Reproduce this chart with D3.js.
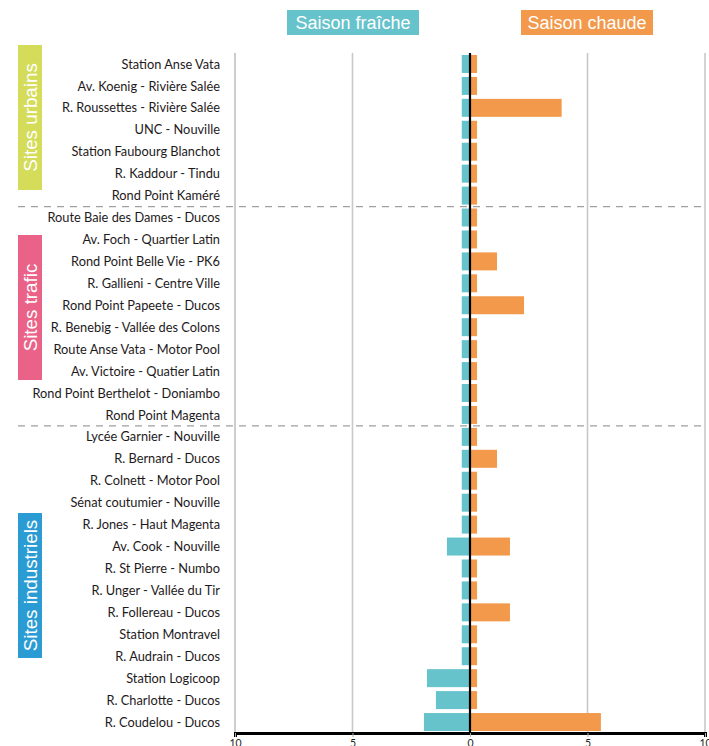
<!DOCTYPE html>
<html>
<head>
<meta charset="utf-8">
<script src="https://cdn.jsdelivr.net/npm/d3@7"></script>
<style>
  html, body { margin: 0; padding: 0; background: #fff; }
  svg { display: block; }
</style>
</head>
<body>
<svg id="chart" width="709" height="746"></svg>
<script>
// Measurement sites, top to bottom
const sites = [
  "Station Anse Vata", "Av. Koenig - Rivière Salée", "R. Roussettes - Rivière Salée",
  "UNC - Nouville", "Station Faubourg Blanchot", "R. Kaddour - Tindu", "Rond Point Kaméré",
  "Route Baie des Dames - Ducos", "Av. Foch - Quartier Latin", "Rond Point Belle Vie - PK6",
  "R. Gallieni - Centre Ville", "Rond Point Papeete - Ducos", "R. Benebig - Vallée des Colons",
  "Route Anse Vata - Motor Pool", "Av. Victoire - Quatier Latin", "Rond Point Berthelot - Doniambo",
  "Rond Point Magenta",
  "Lycée Garnier - Nouville", "R. Bernard - Ducos", "R. Colnett - Motor Pool",
  "Sénat coutumier - Nouville", "R. Jones - Haut Magenta", "Av. Cook - Nouville",
  "R. St Pierre - Numbo", "R. Unger - Vallée du Tir", "R. Follereau - Ducos",
  "Station Montravel", "R. Audrain - Ducos", "Station Logicoop", "R. Charlotte - Ducos",
  "R. Coudelou - Ducos"
];

// Values for the cool season (drawn to the left of zero)
const fraiche = [
  0.35, 0.35, 0.35, 0.35, 0.35, 0.35, 0.35,
  0.35, 0.35, 0.35, 0.35, 0.35, 0.35, 0.35, 0.35, 0.35, 0.35,
  0.35, 0.35, 0.35, 0.35, 0.35, 0.98, 0.35, 0.35, 0.35, 0.35, 0.35, 1.83, 1.45, 1.96
];

// Values for the hot season (drawn to the right of zero)
const chaude = [
  0.3, 0.3, 3.9, 0.3, 0.3, 0.3, 0.3,
  0.3, 0.3, 1.15, 0.3, 2.3, 0.3, 0.3, 0.3, 0.3, 0.3,
  0.3, 1.15, 0.3, 0.3, 0.3, 1.7, 0.3, 0.3, 1.7, 0.3, 0.3, 0.3, 0.3, 5.57
];

// Site categories: label, first row, last row
const groupNames = ["Sites urbains", "Sites trafic", "Sites industriels"];
const groupFirst = [0, 7, 17];
const groupLast = [6, 16, 30];

const seriesNames = ["Saison fraîche", "Saison chaude"];
const tickValues = [-10, -5, 0, 5, 10];

// Styling
const colors = { fraiche: "#66c3cc", chaude: "#f2994b" };
const groupColors = ["#d4dc5a", "#ea6287", "#2b9bd3"];
const groupBoxCenters = [117.5, 307.5, 585.5];

const svg = d3.select("#chart");
const plotTop = 53, plotBottom = 733, plotLeft = 235, plotRight = 705;

const x = d3.scaleLinear().domain([-10, 10]).range([plotLeft, plotRight]);
const y = d3.scaleBand().domain(sites).range([plotTop, plotBottom]).paddingInner(0.18).paddingOuter(0.09);

// Vertical gridlines
svg.append("g")
  .selectAll("line")
  .data([-5, 5, 10])
  .join("line")
  .attr("x1", d => x(d)).attr("x2", d => x(d))
  .attr("y1", plotTop).attr("y2", plotBottom)
  .attr("stroke", "#c8c8c8").attr("stroke-width", 1.6);

svg.append("line")
  .attr("x1", x(-10)).attr("x2", x(-10))
  .attr("y1", plotTop).attr("y2", plotBottom)
  .attr("stroke", "#9a9a9a").attr("stroke-width", 1);

// Group separators
const sepYs = groupFirst.slice(1).map(i => {
  const prev = y(sites[i - 1]) + y.bandwidth();
  const next = y(sites[i]);
  return (prev + next) / 2;
});
svg.append("g")
  .selectAll("line")
  .data(sepYs)
  .join("line")
  .attr("x1", 18).attr("x2", x(10))
  .attr("y1", d => d).attr("y2", d => d)
  .attr("stroke", "#a0a0a0").attr("stroke-width", 1.3)
  .attr("stroke-dasharray", "7,6");

// Bars
const rows = sites.map((s, i) => ({ site: s, f: fraiche[i], c: chaude[i] }));

svg.append("g")
  .selectAll("rect")
  .data(rows)
  .join("rect")
  .attr("x", d => x(-d.f))
  .attr("width", d => x(0) - x(-d.f))
  .attr("y", d => y(d.site))
  .attr("height", y.bandwidth())
  .attr("fill", colors.fraiche);

svg.append("g")
  .selectAll("rect")
  .data(rows)
  .join("rect")
  .attr("x", x(0))
  .attr("width", d => x(d.c) - x(0))
  .attr("y", d => y(d.site))
  .attr("height", y.bandwidth())
  .attr("fill", colors.chaude);

// Zero line
svg.append("line")
  .attr("x1", x(0)).attr("x2", x(0))
  .attr("y1", plotTop).attr("y2", plotBottom)
  .attr("stroke", "#000").attr("stroke-width", 2.2);

// Site labels
svg.append("g")
  .selectAll("text")
  .data(sites)
  .join("text")
  .attr("x", 220)
  .attr("y", d => y(d) + y.bandwidth() / 2)
  .attr("dy", "0.36em")
  .attr("text-anchor", "end")
  .attr("font-family", "Lato, 'Open Sans', sans-serif")
  .attr("font-size", 12.8)
  .attr("fill", "#1e1a1b")
  .text(d => d);

// Bottom axis
const axis = svg.append("g")
  .attr("transform", `translate(0,${plotBottom})`)
  .call(d3.axisBottom(x).tickValues(tickValues).tickSize(4).tickFormat(d => Math.abs(d)));
axis.select(".domain").attr("stroke", "#000").attr("stroke-width", 3);
axis.selectAll(".tick line").attr("stroke", "#b0b0b0");
axis.selectAll(".tick text")
  .attr("font-family", "Lato, sans-serif")
  .attr("font-size", 10.5)
  .attr("fill", "#231f20")
  .attr("y", 7);

// Group boxes with rotated labels
const boxH = 145, boxW = 24;
const gGroups = svg.append("g")
  .selectAll("g")
  .data(groupNames)
  .join("g");
gGroups.append("rect")
  .attr("x", 18)
  .attr("y", (d, i) => groupBoxCenters[i] - boxH / 2)
  .attr("width", boxW).attr("height", boxH)
  .attr("fill", (d, i) => groupColors[i]);
gGroups.append("text")
  .attr("transform", (d, i) => `translate(${18 + boxW / 2},${groupBoxCenters[i]}) rotate(-90)`)
  .attr("text-anchor", "middle")
  .attr("dy", "0.36em")
  .attr("font-family", "'Liberation Sans', Arial, sans-serif")
  .attr("font-size", 18.8)
  .attr("fill", "#fff")
  .text(d => d);

// Legend
const legendX = [287, 521], legendW = 132, legendY = 10, legendH = 25;
const legend = svg.append("g")
  .selectAll("g")
  .data(seriesNames)
  .join("g");
legend.append("rect")
  .attr("x", (d, i) => legendX[i]).attr("y", legendY)
  .attr("width", legendW).attr("height", legendH)
  .attr("fill", (d, i) => i === 0 ? colors.fraiche : colors.chaude);
legend.append("text")
  .attr("x", (d, i) => legendX[i] + legendW / 2)
  .attr("y", legendY + legendH / 2)
  .attr("dy", "0.36em")
  .attr("text-anchor", "middle")
  .attr("font-family", "'Liberation Sans', Arial, sans-serif")
  .attr("font-size", 18)
  .attr("fill", "#fff")
  .text(d => d);
</script>
</body>
</html>
